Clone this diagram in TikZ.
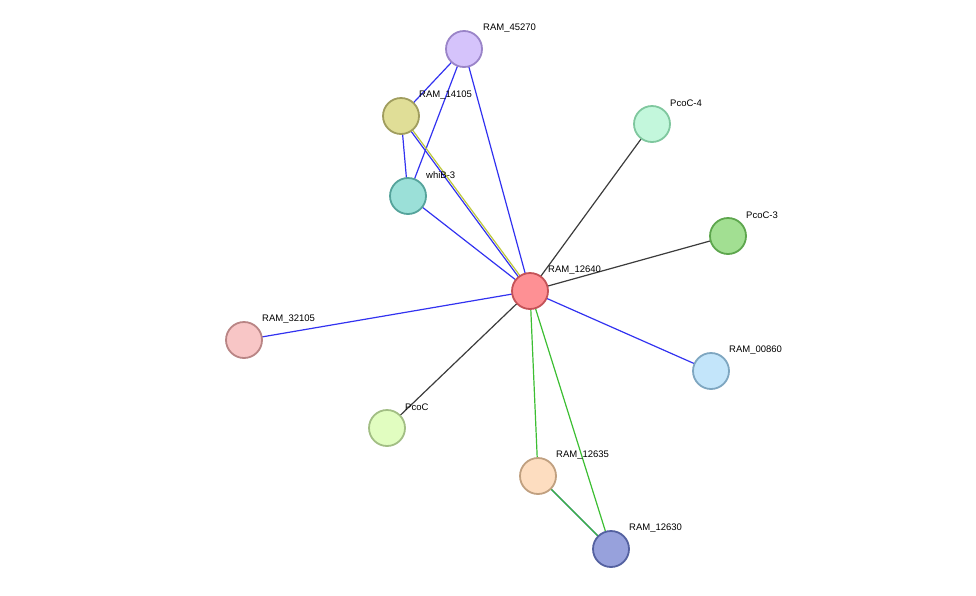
\documentclass[tikz,border=0pt]{standalone}
\usepackage{fontspec}
\setmainfont{Liberation Sans}
\begin{document}
\begin{tikzpicture}[x=1pt,y=-1pt,
  prot/.style={circle,minimum size=36pt,inner sep=0pt,line width=1.8pt},
  lab/.style={anchor=west,font=\fontsize{9.5}{11}\selectfont,inner sep=0pt},
  bl/.style={draw={rgb,255:red,50;green,50;blue,240},line width=1.2pt},
  gr/.style={draw={rgb,255:red,60;green,60;blue,60},line width=1.2pt},
  gn/.style={draw={rgb,255:red,60;green,190;blue,50},line width=1.2pt},
  yl/.style={draw={rgb,255:red,190;green,200;blue,60},line width=1.2pt}]
\useasboundingbox (0,0) rectangle (976,595);
\def\N#1#2#3#4#5{\coordinate (#1) at (#2);}
\coordinate (a) at (464,49);
\coordinate (b) at (401,116);
\coordinate (w) at (408,196);
\coordinate (p4) at (652,124);
\coordinate (p3) at (728,236);
\coordinate (c) at (530,291);
\coordinate (r32) at (244,340);
\coordinate (r08) at (711,371);
\coordinate (pc) at (387,428);
\coordinate (r35) at (538,476);
\coordinate (r30) at (611,549);
\draw[bl] (a)--(b); \draw[bl] (a)--(w); \draw[bl] (a)--(c);
\draw[bl] (b)--(w);
\draw[bl] ([xshift=-1.2pt]b)--([xshift=-1.2pt]c);
\draw[yl] ([xshift=1.2pt]b)--([xshift=1.2pt]c);
\draw[bl] (w)--(c);
\draw[gr] (c)--(p4); \draw[gr] (c)--(p3); \draw[gr] (c)--(pc);
\draw[bl] (c)--(r32); \draw[bl] (c)--(r08);
\draw[gn] (c)--(r35); \draw[gn] (c)--(r30);
\draw[bl] ([xshift=1.2pt,yshift=-1.2pt]r35)--([xshift=1.2pt,yshift=-1.2pt]r30);
\draw[gn] ([xshift=-1.2pt,yshift=1.2pt]r35)--([xshift=-1.2pt,yshift=1.2pt]r30);
\node[prot,fill={rgb,255:red,213;green,195;blue,251},draw={rgb,255:red,154;green,132;blue,200}] (na) at (a) {};
\node[prot,fill={rgb,255:red,224;green,222;blue,151},draw={rgb,255:red,160;green,157;blue,94}] (nb) at (b) {};
\node[prot,fill={rgb,255:red,155;green,224;blue,216},draw={rgb,255:red,85;green,163;blue,155}] (nw) at (w) {};
\node[prot,fill={rgb,255:red,195;green,247;blue,220},draw={rgb,255:red,127;green,199;blue,158}] (np4) at (p4) {};
\node[prot,fill={rgb,255:red,162;green,223;blue,146},draw={rgb,255:red,93;green,166;blue,77}] (np3) at (p3) {};
\node[prot,fill={rgb,255:red,254;green,144;blue,148},draw={rgb,255:red,196;green,82;blue,87}] (nc) at (c) {};
\node[prot,fill={rgb,255:red,248;green,198;blue,198},draw={rgb,255:red,185;green,133;blue,133}] (n32) at (r32) {};
\node[prot,fill={rgb,255:red,195;green,229;blue,250},draw={rgb,255:red,126;green,166;blue,192}] (n08) at (r08) {};
\node[prot,fill={rgb,255:red,225;green,253;blue,192},draw={rgb,255:red,162;green,190;blue,132}] (npc) at (pc) {};
\node[prot,fill={rgb,255:red,253;green,221;blue,192},draw={rgb,255:red,192;green,160;blue,128}] (n35) at (r35) {};
\node[prot,fill={rgb,255:red,151;green,161;blue,220},draw={rgb,255:red,84;green,97;blue,160}] (n30) at (r30) {};
\node[lab] at (483,28) {RAM\_45270};
\node[lab] at (419,95) {RAM\_14105};
\node[lab] at (426,175) {whiB-3};
\node[lab] at (670,103) {PcoC-4};
\node[lab] at (746,215) {PcoC-3};
\node[lab] at (548,270) {RAM\_12640};
\node[lab] at (262,319) {RAM\_32105};
\node[lab] at (729,350) {RAM\_00860};
\node[lab] at (405,407) {PcoC};
\node[lab] at (556,455) {RAM\_12635};
\node[lab] at (629,528) {RAM\_12630};
\end{tikzpicture}
\end{document}
